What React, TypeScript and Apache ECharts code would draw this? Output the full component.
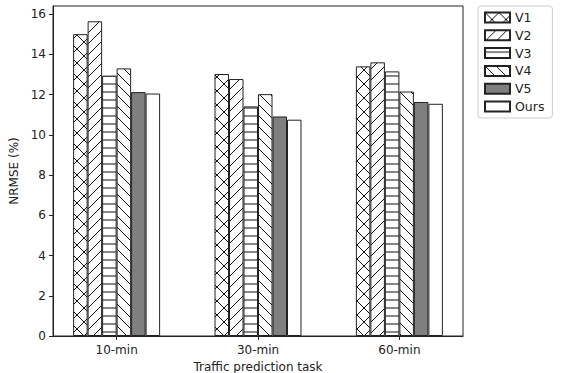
import React, { useEffect, useRef } from "react";
import * as echarts from "echarts";

const categories = ["10-min", "30-min", "60-min"];
const seriesNames = ["V1", "V2", "V3", "V4", "V5", "Ours"];
const v1 = [15.0, 13.02, 13.4];
const v2 = [15.64, 12.77, 13.6];
const v3 = [12.94, 11.41, 13.15];
const v4 = [13.3, 12.02, 12.15];
const v5 = [12.12, 10.91, 11.63];
const ours = [12.05, 10.75, 11.54];
const yTicks = [0, 2, 4, 6, 8, 10, 12, 14, 16];

const svgUrl = (w: number, h: number, body: string) =>
  "data:image/svg+xml;utf8," +
  encodeURIComponent(
    `<svg xmlns="http://www.w3.org/2000/svg" width="${w}" height="${h}" viewBox="0 0 ${w} ${h}">${body}</svg>`
  );

const fwd = (s: number) =>
  `<g stroke="#111" stroke-width="1" fill="none"><line x1="${-1}" y1="${s + 1}" x2="${s + 1}" y2="${-1}"/><line x1="${-1}" y1="1" x2="1" y2="-1"/><line x1="${s - 1}" y1="${s + 1}" x2="${s + 1}" y2="${s - 1}"/></g>`;
const back = (s: number) =>
  `<g stroke="#111" stroke-width="1" fill="none"><line x1="-1" y1="-1" x2="${s + 1}" y2="${s + 1}"/><line x1="${s - 1}" y1="-1" x2="${s + 1}" y2="1"/><line x1="-1" y1="${s - 1}" x2="1" y2="${s + 1}"/></g>`;

const pat = (url: string, s: number) => ({
  image: url,
  repeat: "repeat",
  imageWidth: s,
  imageHeight: s,
});

const fills: any[] = [
  pat(svgUrl(14, 14, `<rect width="14" height="14" fill="#fff"/>` + fwd(14) + back(14)), 14),
  pat(svgUrl(11, 11, `<rect width="11" height="11" fill="#fff"/>` + fwd(11)), 11),
  pat(
    svgUrl(8, 8, `<rect width="8" height="8" fill="#fff"/><line x1="0" y1="4" x2="8" y2="4" stroke="#111" stroke-width="1"/>`),
    8
  ),
  pat(svgUrl(11, 11, `<rect width="11" height="11" fill="#fff"/>` + back(11)), 11),
  "#7f7f7f",
  "#ffffff",
];

const allValues = [v1, v2, v3, v4, v5, ours];

export default function App() {
  const ref = useRef<HTMLDivElement>(null);
  useEffect(() => {
    if (!ref.current) return;
    const chart = echarts.init(ref.current, null, { renderer: "svg" });
    const font = { fontFamily: "DejaVu Sans", fontSize: 12, color: "#222" };
    chart.setOption({
      animation: false,
      backgroundColor: "#fff",
      grid: {
        left: 53,
        top: 6,
        right: 99,
        bottom: 37,
        outerBoundsMode: "none",
        containLabel: false,
        show: true,
        borderColor: "#222",
        borderWidth: 1,
        backgroundColor: "transparent",
      },
      legend: {
        orient: "vertical",
        left: 478,
        top: 6,
        itemWidth: 25,
        itemHeight: 10,
        itemGap: 4.8,
        padding: [5, 8, 5, 6],
        borderColor: "#ccc",
        borderWidth: 1,
        borderRadius: 3,
        textStyle: { fontFamily: "DejaVu Sans", fontSize: 12.5, color: "#222" },
        data: seriesNames.map((n) => ({ name: n, icon: "rect" })),
      },
      xAxis: {
        type: "value",
        min: -0.45,
        max: 2.45,
        splitLine: { show: false },
        axisLine: { show: true, onZero: false, lineStyle: { color: "#222" } },
        axisTick: {
          show: true,
          customValues: [0, 1, 2],
          length: 4,
          lineStyle: { color: "#222" },
        },
        axisLabel: {
          ...font,
          customValues: [0, 1, 2],
          margin: 8,
          formatter: (v: number) => categories[Math.round(v)] ?? "",
        },
        name: "Traffic prediction task",
        nameLocation: "middle",
        nameGap: 24,
        nameTextStyle: font,
      },
      yAxis: {
        type: "value",
        min: 0,
        max: 16.4,
        splitLine: { show: false },
        axisLine: { show: true, onZero: false, lineStyle: { color: "#222" } },
        axisTick: {
          show: true,
          customValues: yTicks,
          length: 4,
          lineStyle: { color: "#222" },
        },
        axisLabel: { ...font, customValues: yTicks, margin: 7 },
        name: "NRMSE (%)",
        nameLocation: "middle",
        nameGap: 31,
        nameTextStyle: font,
      },
      series: seriesNames.map((name, i) => ({
        name,
        type: "bar",
        barWidth: 14.5,
        barGap: "0%",
        data: allValues[i].map((v, j) => [j, v]),
        itemStyle: { color: fills[i], borderColor: "#222", borderWidth: 1 },
        emphasis: { disabled: true },
      })),
    });
    return () => chart.dispose();
  }, []);
  return (
    <div
      ref={ref}
      style={{ position: "absolute", left: 0, top: 0, width: 562, height: 373 }}
    />
  );
}
